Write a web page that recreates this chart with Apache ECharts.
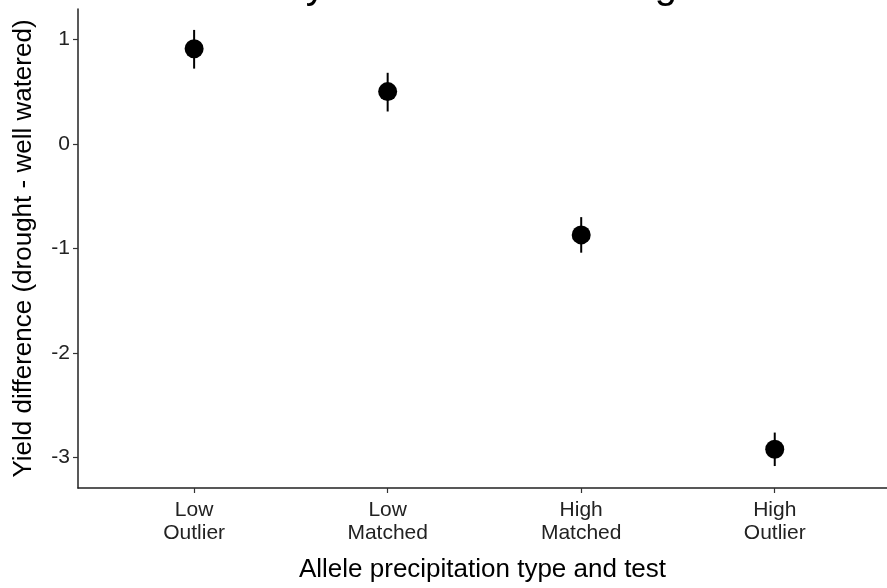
<!DOCTYPE html>
<html>
<head>
<meta charset="utf-8">
<script src="https://cdn.jsdelivr.net/npm/echarts@6/dist/echarts.min.js"></script>
<style>html,body{margin:0;padding:0;background:#fff;}#c{width:887px;height:588px;}</style>
</head>
<body>
<div id="c"></div>
<script>
var categories = ['Low\nOutlier', 'Low\nMatched', 'High\nMatched', 'High\nOutlier'];
var means = [0.91, 0.50, -0.87, -2.92];
var lower = [0.72, 0.31, -1.04, -3.08];
var upper = [1.09, 0.68, -0.70, -2.76];
var yTicks = [-3, -2, -1, 0, 1];
var xTicks = [1, 2, 3, 4];

var pointData = means.map(function (v, i) { return [i + 1, v]; });
var errData = means.map(function (v, i) { return [i + 1, lower[i], upper[i]]; });

var FONT = 'Liberation Sans, Arial, Helvetica, sans-serif';
var chart = echarts.init(document.getElementById('c'), null, { renderer: 'canvas' });
chart.setOption({
  animation: false,
  backgroundColor: '#ffffff',
  textStyle: { fontFamily: FONT },
  title: {
    text: 'Dry alleles under drought',
    left: 482, textAlign: 'center',
    top: -38,
    textStyle: { fontSize: 40, fontWeight: 'normal', color: '#000', fontFamily: FONT }
  },
  grid: { left: 78, right: 0, top: 9, bottom: 97, containLabel: false },
  xAxis: {
    type: 'value',
    min: 0.4, max: 4.58,
    name: 'Allele precipitation type and test',
    nameLocation: 'middle',
    nameGap: 69,
    nameTextStyle: { fontSize: 26, color: '#000', fontFamily: FONT },
    splitLine: { show: false },
    axisLine: { onZero: false, lineStyle: { color: '#222', width: 1.5 } },
    axisTick: { customValues: xTicks, length: 5, lineStyle: { color: '#333', width: 1.2 } },
    axisLabel: {
      customValues: xTicks,
      formatter: function (v) { return categories[Math.round(v) - 1]; },
      color: '#222', fontSize: 21, lineHeight: 23, margin: 11, fontFamily: FONT
    }
  },
  yAxis: {
    type: 'value',
    min: -3.29, max: 1.29,
    name: 'Yield difference (drought - well watered)',
    nameLocation: 'middle',
    nameGap: 41,
    nameTextStyle: { fontSize: 26, color: '#000', fontFamily: FONT },
    splitLine: { show: false },
    axisLine: { show: true, onZero: false, lineStyle: { color: '#222', width: 1.5 } },
    axisTick: { show: true, customValues: yTicks, length: 5, lineStyle: { color: '#333', width: 1.2 } },
    axisLabel: { customValues: yTicks, color: '#222', fontSize: 21, margin: 8, fontFamily: FONT }
  },
  series: [
    {
      type: 'custom',
      data: errData,
      renderItem: function (params, api) {
        var x = api.value(0);
        var p1 = api.coord([x, api.value(1)]);
        var p2 = api.coord([x, api.value(2)]);
        return {
          type: 'line',
          shape: { x1: p1[0], y1: p1[1], x2: p2[0], y2: p2[1] },
          style: { stroke: '#000', lineWidth: 2 }
        };
      },
      z: 2
    },
    {
      type: 'scatter',
      data: pointData,
      symbol: 'circle',
      symbolSize: 19,
      itemStyle: { color: '#000', opacity: 1 },
      z: 3
    }
  ]
});
</script>
</body>
</html>
